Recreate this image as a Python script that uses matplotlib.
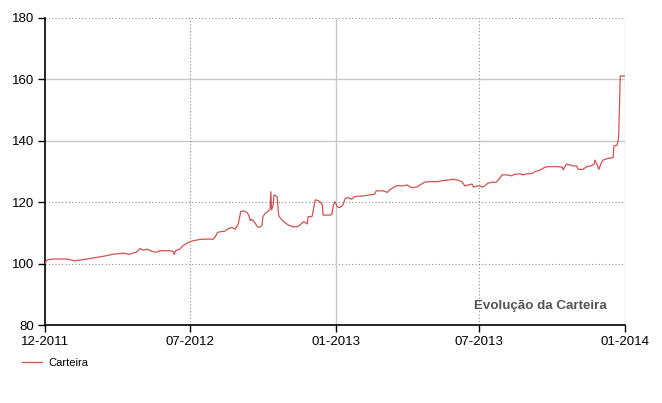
"""Evolução da Carteira — portfolio value chart."""

import matplotlib

matplotlib.use("Agg")
import matplotlib.pyplot as plt
import pandas as pd

plt.rcParams["font.family"] = ["Liberation Sans", "DejaVu Sans"]

START = "2011-12-31"

# days after START
day_offset = [
    0, 3, 11, 24, 30, 37, 45, 53, 62, 74, 87, 100, 106, 115, 120, 124, 129, 136,
    141, 145, 158, 162, 163, 165, 170, 174, 180, 186, 196, 208, 212, 215, 218,
    227, 231, 236, 240, 244, 247, 250, 255, 257, 259, 261, 265, 268, 271, 274,
    275, 278, 281, 284, 285, 286, 288, 289, 290, 293, 294, 295, 299, 303, 307,
    313, 318, 322, 326, 328, 331, 332, 337, 341, 343, 347, 350, 351, 360, 362,
    364, 366, 369, 372, 376, 379, 382, 387, 391, 398, 401, 408, 416, 418, 427,
    432, 435, 439, 444, 451, 457, 463, 470, 473, 480, 488, 496, 501, 509, 515,
    521, 526, 530, 534, 539, 541, 545, 549, 552, 555, 559, 564, 569, 572, 577,
    583, 589, 593, 600, 603, 608, 615, 618, 625, 631, 637, 646, 653, 654, 658,
    663, 666, 671, 673, 679, 684, 690, 693, 694, 697, 699, 702, 704, 711, 717,
    718, 722, 723, 724, 726, 732,
]

carteira = [
    100.2, 101.2, 101.5, 101.5, 101.4, 100.9, 101.2, 101.5, 101.9, 102.4, 103.1,
    103.4, 103.0, 103.7, 104.9, 104.4, 104.7, 103.9, 103.7, 104.2, 104.2, 103.9,
    103.0, 104.2, 104.7, 105.8, 106.8, 107.4, 107.9, 108.0, 107.9, 108.8, 110.2,
    110.6, 111.3, 111.8, 111.2, 113.0, 116.9, 117.2, 116.7, 115.8, 114.0, 114.4,
    113.3, 112.0, 111.8, 112.6, 115.3, 116.4, 116.9, 117.7, 123.4, 117.5, 119.1,
    122.3, 122.3, 121.8, 118.5, 115.5, 114.2, 113.3, 112.6, 112.0, 112.0, 112.6,
    113.6, 113.5, 112.9, 115.3, 115.3, 120.7, 120.7, 120.2, 119.1, 115.8, 115.8,
    116.1, 119.1, 120.2, 118.5, 118.2, 119.1, 121.3, 121.5, 121.0, 121.8, 122.0,
    122.0, 122.3, 122.6, 123.7, 123.7, 123.2, 124.0, 124.7, 125.4, 125.3, 125.6,
    124.7, 125.0, 125.6, 126.6, 126.7, 126.7, 127.0, 127.2, 127.5, 127.2, 126.7,
    125.3, 125.6, 125.9, 124.9, 125.3, 125.3, 124.9, 125.3, 126.2, 126.5, 126.5,
    127.2, 128.9, 128.9, 128.6, 129.1, 129.2, 128.9, 129.2, 129.4, 129.9, 130.5,
    131.4, 131.6, 131.6, 131.4, 130.5, 132.4, 132.1, 131.8, 131.8, 130.7, 130.7,
    131.6, 131.9, 132.4, 133.7, 132.1, 130.7, 132.7, 133.7, 134.3, 134.5, 138.3,
    138.6, 139.7, 141.3, 161.1, 161.1,
]

tick_dates = ["2011-12-31", "2012-07-01", "2013-01-01", "2013-07-01", "2014-01-01"]
tick_labels = ["12-2011", "07-2012", "01-2013", "07-2013", "01-2014"]
y_ticks = [80, 100, 120, 140, 160, 180]

# which reference lines are dotted vs solid in the original
hgrid_dotted = [100, 120, 180]
hgrid_solid = [140, 160]
vgrid_dotted = ["2012-07-01", "2013-07-01"]
vgrid_solid = ["2013-01-01", "2014-01-01"]

dates = pd.Timestamp(START) + pd.to_timedelta(day_offset, unit="D")
ticks = pd.to_datetime(tick_dates)

fig = plt.figure(figsize=(6.62, 4.03), dpi=100)
ax = fig.add_axes([45 / 662, 1 - 325 / 403, 580 / 662, 307 / 403])

dot_kw = dict(color="#8c8c8c", lw=0.8, ls=(0, (1, 2)), zorder=1)
sol_kw = dict(color="#c8c8c8", lw=1.0, ls="-", zorder=1)
for v in hgrid_dotted:
    ax.axhline(v, **dot_kw)
for v in hgrid_solid:
    ax.axhline(v, **sol_kw)
for d in vgrid_dotted:
    ax.axvline(pd.Timestamp(d), **dot_kw)
for d in vgrid_solid:
    ax.axvline(pd.Timestamp(d), **sol_kw)

line, = ax.plot(dates, carteira, color="#d05252", lw=0.9, label="Carteira", zorder=3)

ax.set_xlim(ticks[0], ticks[-1])
ax.set_ylim(80, 180)
ax.set_xticks(ticks)
ax.set_xticklabels(tick_labels)
ax.set_yticks(y_ticks)
ax.tick_params(axis="both", direction="out", length=5, width=1, color="black",
               labelsize=9.5, pad=3)

for side in ("top", "right"):
    ax.spines[side].set_visible(False)
for side in ("left", "bottom"):
    ax.spines[side].set_color("black")
    ax.spines[side].set_linewidth(1.2)

ax.text(0.969, 0.062, "Evolução da Carteira", transform=ax.transAxes,
        ha="right", va="center", fontsize=9.6, fontweight="bold", color="#555555")

fig.legend(handles=[line], loc="center left", bbox_to_anchor=(0.018, 1 - 363 / 403),
           frameon=False, fontsize=8, handlelength=1.8, handletextpad=0.6)

fig.savefig("out.png", dpi=100)
